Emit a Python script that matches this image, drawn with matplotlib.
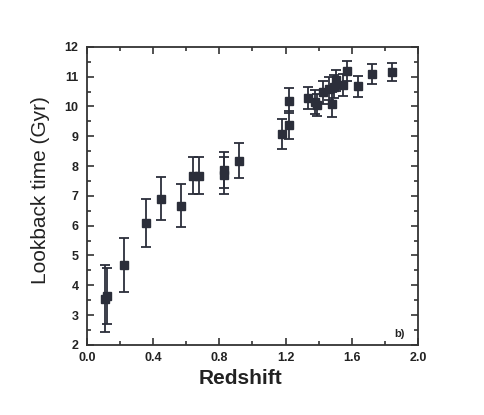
import numpy as np
import matplotlib.pyplot as plt
from matplotlib.ticker import MultipleLocator

# ========================================
# data
# ========================================
redshift = [0.11, 0.12, 0.225, 0.36, 0.45, 0.57, 0.64, 0.675, 0.83, 0.83, 0.92,
            1.18, 1.22, 1.22, 1.335, 1.375, 1.39, 1.425, 1.46, 1.48, 1.49,
            1.505, 1.545, 1.57, 1.635, 1.72, 1.84]
lookback = [3.55, 3.65, 4.68, 6.09, 6.9, 6.67, 7.68, 7.68, 7.87, 7.69, 8.18,
            9.08, 9.38, 10.19, 10.28, 10.15, 10.05, 10.47, 10.6, 10.08, 10.67,
            10.88, 10.72, 11.18, 10.68, 11.09, 11.17]
err = [1.12, 0.94, 0.92, 0.79, 0.72, 0.72, 0.63, 0.63, 0.61, 0.63, 0.58,
       0.5, 0.46, 0.42, 0.38, 0.41, 0.36, 0.38, 0.38, 0.42, 0.4,
       0.36, 0.36, 0.33, 0.35, 0.32, 0.3]

col = "#2b2e3a"
fam = ["Liberation Sans", "DejaVu Sans"]

fig = plt.figure(figsize=(4.85, 4.15), dpi=100)
ax = fig.add_axes([0.179, 0.169, 0.683, 0.718])

ax.errorbar(redshift, lookback, yerr=err, fmt="s", color=col, ecolor=col,
            markersize=6.3, elinewidth=1.3, capsize=3.5, capthick=1.3)

ax.set_xlim(0, 2.0)
ax.set_ylim(2, 12)
ax.xaxis.set_major_locator(MultipleLocator(0.4))
ax.xaxis.set_minor_locator(MultipleLocator(0.2))
ax.yaxis.set_major_locator(MultipleLocator(1))
ax.yaxis.set_minor_locator(MultipleLocator(0.5))
ax.tick_params(which="both", direction="in", top=True, right=True,
               color="#333333", width=1.2)
ax.tick_params(which="major", length=5, labelsize=9)
ax.tick_params(axis="x", which="major", pad=5)
ax.tick_params(axis="y", which="major", pad=6)
ax.tick_params(which="minor", length=3)
for lab in ax.get_xticklabels() + ax.get_yticklabels():
    lab.set_fontweight("bold")
    lab.set_family(fam)
    lab.set_color("#222222")
for s in ax.spines.values():
    s.set_linewidth(1.3)
    s.set_color("#333333")

ax.set_xlabel("Redshift", fontsize=15, fontweight="bold", family=fam,
              color="#222222")
ax.xaxis.set_label_coords(0.465, -0.08)
ax.set_ylabel("Lookback time (Gyr)", fontsize=15, family=fam, color="#222222")
ax.yaxis.set_label_coords(-0.11, 0.52)
ax.text(0.961, 0.02, "b)", transform=ax.transAxes, fontsize=8,
        fontweight="bold", family=fam, ha="right", va="bottom",
        color="#222222")

fig.savefig("out.png", dpi=100)
